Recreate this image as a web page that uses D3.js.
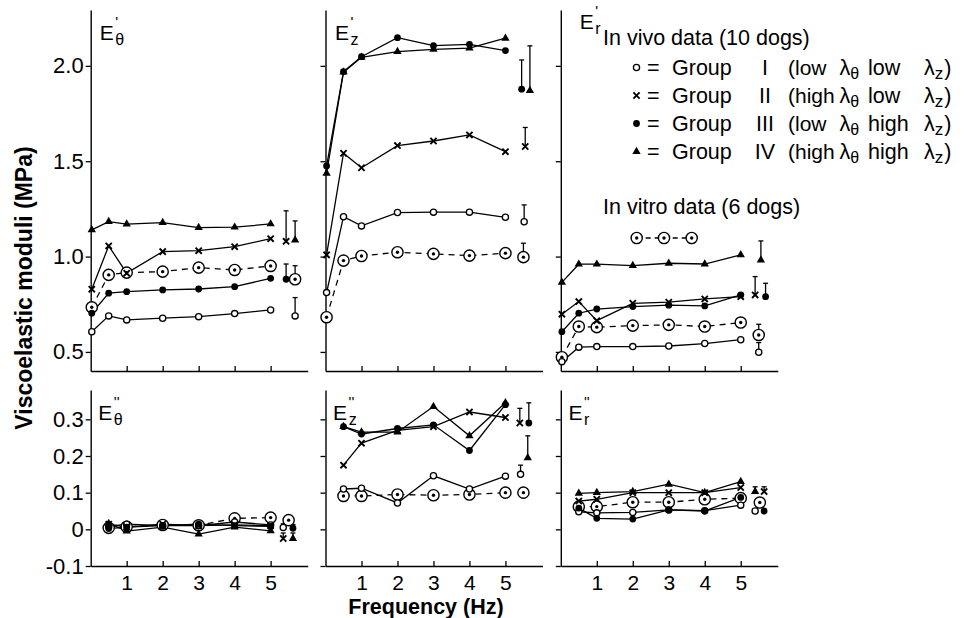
<!DOCTYPE html>
<html>
<head>
<meta charset="utf-8">
<script src="https://cdn.jsdelivr.net/npm/d3@7"></script>
<style>
  body { margin: 0; background: #fff; }
  svg { display: block; }
  text { font-family: "Liberation Sans", Arial, Helvetica, sans-serif; fill: #000; }
</style>
</head>
<body>
<svg id="chart" width="966" height="618"></svg>
<script>
// Frequencies (Hz)
const freqStorage = [0.03, 0.5, 1, 2, 3, 4, 5];
const freqLoss = [0.5, 1, 2, 3, 4, 5];
const freqTicks = [1, 2, 3, 4, 5];
const storageTicks = [0.5, 1.0, 1.5, 2.0];
const lossTicks = [-0.1, 0, 0.1, 0.2, 0.3];

// Storage moduli E' (MPa): circumferential (theta)
const storTheta_I     = [0.606, 0.689, 0.668, 0.677, 0.685, 0.701, 0.720];
const storTheta_II    = [0.829, 1.056, 0.913, 1.026, 1.031, 1.052, 1.094];
const storTheta_III   = [0.703, 0.808, 0.816, 0.825, 0.830, 0.842, 0.886];
const storTheta_IV    = [1.140, 1.183, 1.170, 1.178, 1.152, 1.154, 1.171];
const storTheta_vitro = [0.734, 0.904, 0.916, 0.921, 0.942, 0.930, 0.951];

// Storage moduli E' : axial (z)
const storZ_I     = [0.811, 1.209, 1.161, 1.231, 1.233, 1.233, 1.206];
const storZ_II    = [1.009, 1.542, 1.466, 1.582, 1.606, 1.638, 1.550];
const storZ_III   = [1.475, 1.970, 2.048, 2.148, 2.106, 2.113, 2.080];
const storZ_IV    = [1.437, 1.967, 2.045, 2.075, 2.087, 2.093, 2.145];
const storZ_vitro = [0.682, 0.979, 1.003, 1.023, 1.014, 1.005, 1.018];

// Storage moduli E' : radial (r)
const storR_I     = [0.449, 0.525, 0.528, 0.528, 0.531, 0.544, 0.564];
const storR_II    = [0.698, 0.764, 0.664, 0.755, 0.761, 0.778, 0.790];
const storR_III   = [0.606, 0.703, 0.725, 0.738, 0.745, 0.741, 0.799];
const storR_IV    = [0.865, 0.960, 0.960, 0.953, 0.965, 0.961, 1.009];
const storR_vitro = [0.472, 0.633, 0.630, 0.638, 0.642, 0.633, 0.654];

// Loss moduli E'' (MPa)
const lossTheta_I     = [0.008, 0.014, 0.010, 0.010, 0.020, 0.012];
const lossTheta_II    = [0.014, 0.006, 0.014, 0.010, 0.012, 0.010];
const lossTheta_III   = [0.002, 0.006, 0.010, 0.014, 0.010, 0.008];
const lossTheta_IV    = [0.016, -0.005, 0.006, -0.013, 0.006, -0.004];
const lossTheta_vitro = [0.004, 0.007, 0.012, 0.011, 0.030, 0.032];

const lossZ_I     = [0.110, 0.112, 0.072, 0.146, 0.110, 0.145];
const lossZ_II    = [0.175, 0.235, 0.270, 0.280, 0.320, 0.305];
const lossZ_III   = [0.280, 0.260, 0.275, 0.285, 0.215, 0.340];
const lossZ_IV    = [0.280, 0.265, 0.265, 0.335, 0.255, 0.345];
const lossZ_vitro = [0.091, 0.091, 0.095, 0.093, 0.095, 0.100];

const lossR_I     = [0.048, 0.045, 0.046, 0.053, 0.051, 0.066];
const lossR_II    = [0.077, 0.082, 0.100, 0.100, 0.100, 0.114];
const lossR_III   = [0.058, 0.030, 0.028, 0.053, 0.050, 0.087];
const lossR_IV    = [0.098, 0.100, 0.103, 0.123, 0.100, 0.130];
const lossR_vitro = [0.062, 0.062, 0.074, 0.074, 0.082, 0.085];

// Representative mean and standard deviation, order: I, II, III, IV, in vitro
const storThetaSD = [[0.689, 0.096], [1.080, 0.160], [0.881, 0.080], [1.087, 0.100], [0.881, 0.071]];
const storZSD     = [[1.183, 0.088], [1.577, 0.100], [1.878, 0.153], [1.870, 0.235], [0.997, 0.073]];
const storRSD     = [[0.498, 0.051], [0.799, 0.096], [0.790, 0.070], [0.982, 0.100], [0.589, 0.056]];
const lossThetaSD = [[0.005, 0.010], [-0.025, 0.015], [0.003, 0.010], [-0.025, 0.015], [0.025, 0]];
const lossZSD     = [[0.150, 0.025], [0.290, 0.040], [0.290, 0.055], [0.195, 0.060], [0.100, 0]];
const lossRSD     = [[0.050, 0], [0.103, 0.013], [0.050, 0], [0.103, 0.013], [0.073, 0]];

const groupKeys = ["I", "II", "III", "IV", "vitro"];

// ---------- layout ----------
const svg = d3.select("#chart");
const colX = [90.7, 325.5, 560.8];
const panelW = 217;
const rows = [
  { top: 10, bottom: 371, domain: [0.40, 2.293], ticks: storageTicks, fmt: d => d.toFixed(1), primes: "'", primeW: 2.9 },
  { top: 390, bottom: 566, domain: [-0.1, 0.38], ticks: lossTicks, fmt: d => d === 0 ? "0" : d.toFixed(1), primes: "''", primeW: 5.7 }
];

const panels = [
  { row: 0, col: 0, sub: "θ", freq: freqStorage, data: [storTheta_I, storTheta_II, storTheta_III, storTheta_IV, storTheta_vitro], sd: storThetaSD, sdAt: [5.68, 5.43, 5.43, 5.68, 5.68], labelDx: 9, labelBase: 40 },
  { row: 0, col: 1, sub: "z", freq: freqStorage, data: [storZ_I, storZ_II, storZ_III, storZ_IV, storZ_vitro], sd: storZSD, sdAt: [5.52, 5.55, 5.45, 5.68, 5.5], labelDx: 9.5, labelBase: 40 },
  { row: 0, col: 2, sub: "r", freq: freqStorage, data: [storR_I, storR_II, storR_III, storR_IV, storR_vitro], sd: storRSD, sdAt: [5.5, 5.4, 5.69, 5.56, 5.5], labelDx: 19, labelBase: 29 },
  { row: 1, col: 0, sub: "θ", freq: freqLoss, data: [lossTheta_I, lossTheta_II, lossTheta_III, lossTheta_IV, lossTheta_vitro], sd: lossThetaSD, sdAt: [5.35, 5.35, 5.62, 5.62, 5.5], labelDx: 7.6, labelBase: 420 },
  { row: 1, col: 1, sub: "z", freq: freqLoss, data: [lossZ_I, lossZ_II, lossZ_III, lossZ_IV, lossZ_vitro], sd: lossZSD, sdAt: [5.42, 5.4, 5.65, 5.62, 5.5], labelDx: 7.6, labelBase: 420 },
  { row: 1, col: 2, sub: "r", freq: freqLoss, data: [lossR_I, lossR_II, lossR_III, lossR_IV, lossR_vitro], sd: lossRSD, sdAt: [5.4, 5.65, 5.65, 5.4, 5.53], labelDx: 7.6, labelBase: 420 }
];

// ---------- markers ----------
function marker(g, type, cx, cy) {
  if (type === "I") {
    g.append("circle").attr("cx", cx).attr("cy", cy).attr("r", 3.1)
      .attr("fill", "#fff").attr("stroke", "#000").attr("stroke-width", 1.3);
  } else if (type === "II") {
    const s = 3.1;
    g.append("path")
      .attr("d", `M${cx - s},${cy - s}L${cx + s},${cy + s}M${cx - s},${cy + s}L${cx + s},${cy - s}`)
      .attr("stroke", "#000").attr("stroke-width", 1.9).attr("fill", "none");
  } else if (type === "III") {
    g.append("circle").attr("cx", cx).attr("cy", cy).attr("r", 3.4).attr("fill", "#000");
  } else if (type === "IV") {
    g.append("path").attr("d", d3.symbol(d3.symbolTriangle, 30)())
      .attr("transform", `translate(${cx},${cy})`).attr("fill", "#000");
  } else {
    g.append("circle").attr("cx", cx).attr("cy", cy).attr("r", 5.6)
      .attr("fill", "#fff").attr("stroke", "#000").attr("stroke-width", 1.4);
    g.append("circle").attr("cx", cx).attr("cy", cy).attr("r", 1.7).attr("fill", "#000");
  }
}

// ---------- panels ----------
panels.forEach(p => {
  const r = rows[p.row];
  const x0 = colX[p.col];
  const x = d3.scaleLinear().domain([0, 6.03]).range([x0, x0 + panelW]);
  const y = d3.scaleLinear().domain(r.domain).range([r.bottom, r.top]);
  const g = svg.append("g");

  // x axis (ticks point inward)
  const xAxis = d3.axisBottom(x).tickValues(freqTicks)
    .tickSizeInner(-5).tickSizeOuter(0).tickPadding(9)
    .tickFormat(p.row === 1 ? d3.format("d") : () => "");
  const gx = g.append("g").attr("transform", `translate(0,${r.bottom})`).call(xAxis);
  gx.selectAll("text").attr("font-size", 21).attr("fill", "#000");

  // y axis (labels only on the first column)
  const yAxis = d3.axisLeft(y).tickValues(r.ticks)
    .tickSizeInner(5).tickSizeOuter(0).tickPadding(2)
    .tickFormat(p.col === 0 ? r.fmt : () => "");
  const gy = g.append("g").attr("transform", `translate(${x0},0)`).call(yAxis);
  gy.selectAll("text").attr("font-size", 22).attr("fill", "#000");

  [gx, gy].forEach(a => {
    a.select(".domain").attr("stroke", "#000").attr("stroke-width", 1.4);
    a.selectAll(".tick line").attr("stroke", "#000").attr("stroke-width", 1.3);
    a.attr("font-family", null);
  });

  // panel label E' / E'' with the subscript set under the prime
  const lab = g.append("text").attr("x", x0 + p.labelDx).attr("y", p.labelBase).attr("font-size", 21);
  lab.append("tspan").text("E");
  lab.append("tspan").attr("dx", 1.5).attr("dy", -13).attr("font-size", 15).text(r.primes);
  lab.append("tspan").attr("dx", -r.primeW).attr("dy", 18).attr("font-size", 16).text(p.sub);

  const line = d3.line().x(d => x(d[0])).y(d => y(d[1]));

  // series lines: in vitro dashed drawn first
  [4, 0, 1, 2, 3].forEach(i => {
    const pts = p.freq.map((f, j) => [f, p.data[i][j]]);
    g.append("path").attr("d", line(pts))
      .attr("fill", "none").attr("stroke", "#000").attr("stroke-width", 1.3)
      .attr("stroke-dasharray", i === 4 ? "6,5" : null);
  });
  [4, 0, 1, 2, 3].forEach(i => {
    p.freq.forEach((f, j) => marker(g, groupKeys[i], x(f), y(p.data[i][j])));
  });

  // standard deviation bars
  p.sd.forEach((ms, i) => {
    const [m, s] = ms;
    const cx = x(p.sdAt[i]);
    if (s > 0) {
      g.append("line").attr("x1", cx).attr("x2", cx).attr("y1", y(m)).attr("y2", y(m + s))
        .attr("stroke", "#000").attr("stroke-width", 1.3);
      g.append("line").attr("x1", cx - 2.5).attr("x2", cx + 2.5).attr("y1", y(m + s)).attr("y2", y(m + s))
        .attr("stroke", "#000").attr("stroke-width", 1.3);
    }
    marker(g, groupKeys[i], cx, y(m));
  });
});

// ---------- axis titles ----------
svg.append("text").attr("x", 426).attr("y", 614).attr("text-anchor", "middle")
  .attr("font-size", 21.5).attr("font-weight", "bold").text("Frequency (Hz)");
svg.append("text").attr("transform", "translate(32,288) rotate(-90)").attr("text-anchor", "middle")
  .attr("font-size", 23).attr("font-weight", "bold").text("Viscoelastic moduli (MPa)");

// ---------- legend ----------
const legend = svg.append("g");
const LF = 21.5;
legend.append("text").attr("x", 603).attr("y", 45).attr("font-size", LF).text("In vivo data (10 dogs)");
const legendRows = [
  { key: "I",   num: "I",   a: "(low",  b: "low" },
  { key: "II",  num: "II",  a: "(high", b: "low" },
  { key: "III", num: "III", a: "(low",  b: "high" },
  { key: "IV",  num: "IV",  a: "(high", b: "high" }
];
legendRows.forEach((d, i) => {
  const base = 75 + i * 28;
  marker(legend, d.key, 636.5, base - 7.5);
  legend.append("text").attr("x", 647).attr("y", base).attr("font-size", LF).text("=");
  legend.append("text").attr("x", 672).attr("y", base).attr("font-size", LF).text("Group");
  legend.append("text").attr("x", 765).attr("y", base).attr("font-size", LF).attr("text-anchor", "middle").text(d.num);
  legend.append("text").attr("x", 788).attr("y", base).attr("font-size", 21).text(d.a);
  const l1 = legend.append("text").attr("x", 839.5).attr("y", base).attr("font-size", LF);
  l1.append("tspan").text("λ");
  l1.append("tspan").attr("dy", 4).attr("font-size", 16).text("θ");
  legend.append("text").attr("x", 868).attr("y", base).attr("font-size", LF).text(d.b);
  const l2 = legend.append("text").attr("x", 924).attr("y", base).attr("font-size", LF);
  l2.append("tspan").text("λ");
  l2.append("tspan").attr("dy", 4).attr("font-size", 17).text("z");
  l2.append("tspan").attr("dx", 1).attr("dy", -4).text(")");
});
legend.append("text").attr("x", 603).attr("y", 214).attr("font-size", LF).text("In vitro data (6 dogs)");
const sampleX = [636.7, 664, 691.7];
legend.append("path").attr("d", d3.line()(sampleX.map(v => [v, 238])))
  .attr("stroke", "#000").attr("stroke-width", 1.3).attr("stroke-dasharray", "5,4").attr("fill", "none");
sampleX.forEach(v => marker(legend, "vitro", v, 238));
</script>
</body>
</html>
